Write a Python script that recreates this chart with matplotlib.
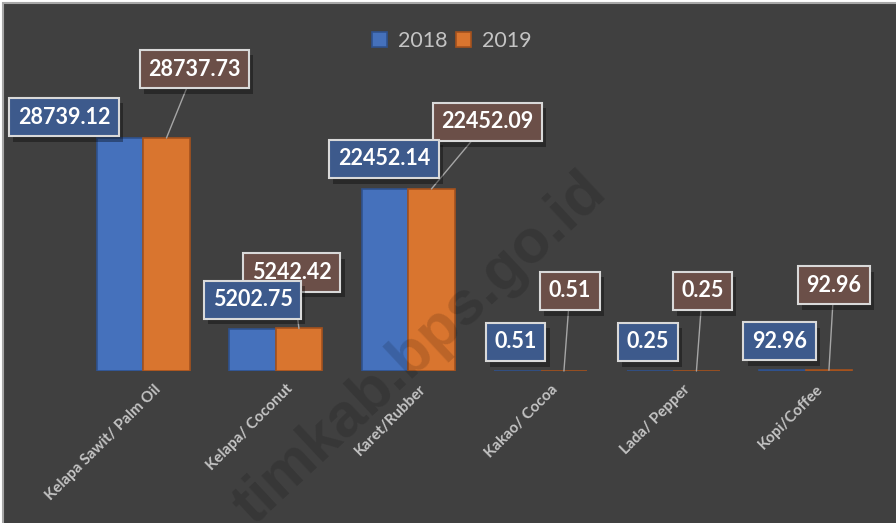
import matplotlib
matplotlib.use("Agg")
import matplotlib.pyplot as plt
import matplotlib.patheffects as pe
from matplotlib.patches import Rectangle, Patch
import numpy as np

# data
categories = ["Kelapa Sawit/ Palm Oil", "Kelapa/ Coconut", "Karet/Rubber",
              "Kakao/ Cocoa", "Lada/ Pepper", "Kopi/Coffee"]
years = ["2018", "2019"]
val_2018 = [28739.12, 5202.75, 22452.14, 0.51, 0.25, 92.96]
val_2019 = [28737.73, 5242.42, 22452.09, 0.51, 0.25, 92.96]

# label offsets (pixels from bar top)
off_2018 = [(-56, 21), (0, 29), (-1, 30), (-2, 29), (-2, 29), (-3, 29)]
off_2019 = [(28, 69), (-7, 56), (56, 67), (6, 80), (6, 80), (5, 85)]

BG = "#404040"
BLUE, BLUE_EDGE = "#4571BC", "#2F528F"
ORANGE, ORANGE_EDGE = "#D9752F", "#A5521D"
BOX_2018, BOX_2019 = "#3D5A8C", "#6B4F48"
TXT_GREY = "#C4C4C4"
FONT = "Lato"

W, H = 896, 523
fig = plt.figure(figsize=(W / 100, H / 100), dpi=100, facecolor="white")
# chart area with thin border
fig.patches.append(Rectangle((3 / W, -0.1), 1.2, 1 - 3 / H + 0.1, transform=fig.transFigure,
                             facecolor=BG, edgecolor="#A8A8A8", lw=1.5, zorder=-5))

ax = fig.add_axes([77 / W, (H - 371) / H, (872 - 77) / W, (371 - 30) / H])
ax.set_facecolor("none")
for s in ax.spines.values():
    s.set_visible(False)

x = np.arange(len(categories))
bw = 0.35
b1 = ax.bar(x - bw / 2, val_2018, bw, color=BLUE, edgecolor=BLUE_EDGE, lw=1.2, zorder=2)
b2 = ax.bar(x + bw / 2, val_2019, bw, color=ORANGE, edgecolor=ORANGE_EDGE, lw=1.2, zorder=2)
ax.set_xlim(-0.5, len(categories) - 0.5)
ax.set_ylim(0, 28739.12 * 341 / 233)
ax.set_yticks([])
ax.set_xticks(x)
ax.set_xticklabels([])
ax.tick_params(length=0)

# rotated category labels
for i, c in enumerate(categories):
    ax.annotate(c, (i, 0), xytext=(15, -16), textcoords="offset pixels",
                rotation=45, rotation_mode="anchor", ha="right", va="center",
                fontsize=11, fontweight="bold", color=TXT_GREY, family=FONT)

shadow = [pe.withSimplePatchShadow(offset=(3, -4), shadow_rgbFace="black", alpha=0.35)]


def add_label(xv, yv, txt, off, fc, leader):
    kw = dict(arrowprops=dict(arrowstyle="-", color="#A6A6A6", lw=1.0, shrinkA=0, shrinkB=0)) if leader else {}
    a = ax.annotate(txt, (xv, yv), xytext=off, textcoords="offset pixels",
                    ha="center", va="center", fontsize=15.5, fontweight="bold",
                    color="white", family=FONT, zorder=5,
                    bbox=dict(boxstyle="square,pad=0.4", fc=fc, ec="#D9D9D9", lw=1.5),
                    **kw)
    a.get_bbox_patch().set_path_effects(shadow)
    return a


for i in range(len(categories)):
    add_label(x[i] + bw / 2, val_2019[i], f"{val_2019[i]:.2f}", off_2019[i], BOX_2019, True)
for i in range(len(categories)):
    add_label(x[i] - bw / 2, val_2018[i], f"{val_2018[i]:.2f}", off_2018[i], BOX_2018, False)

# legend
handles = [Patch(facecolor=BLUE, edgecolor=BLUE_EDGE, lw=1.2),
           Patch(facecolor=ORANGE, edgecolor=ORANGE_EDGE, lw=1.2)]
leg = fig.legend(handles, years, loc="center", bbox_to_anchor=(452 / W, 1 - 41 / H),
                 ncol=2, frameon=False, handlelength=0.7, handleheight=0.7,
                 handletextpad=0.5, columnspacing=0.4,
                 prop=dict(family=FONT, size=15.5))
for t in leg.get_texts():
    t.set_color(TXT_GREY)

# watermark
fig.text(420 / W, 1 - 350 / H, "timkab.bps.go.id", rotation=43, ha="center", va="center",
         fontsize=44, fontweight="bold", family="Liberation Sans", color="black", alpha=0.14,
         zorder=10)

fig.savefig("out.png", dpi=100, facecolor=fig.get_facecolor())
